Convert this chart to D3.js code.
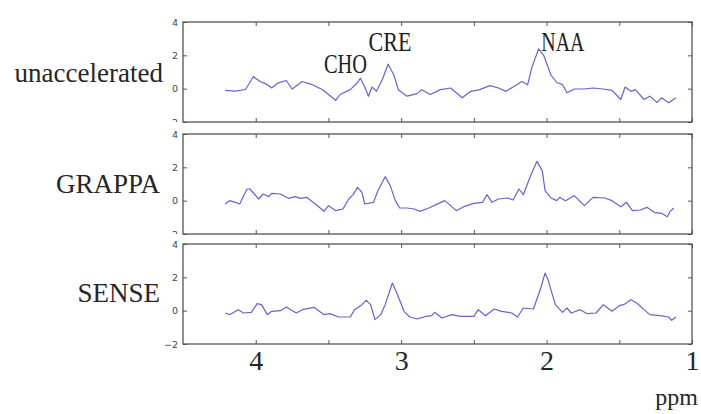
<!DOCTYPE html>
<html>
<head>
<meta charset="utf-8">
<script src="https://cdn.jsdelivr.net/npm/d3@7"></script>
<style>
html,body{margin:0;padding:0;background:#fff;}
svg{display:block;}
</style>
</head>
<body>
<svg id="chart" width="701" height="414"></svg>
<script>
// ---- data (ppm, signal) ----
const panelLabels = ["unaccelerated", "GRAPPA", "SENSE"];
const xTickLabels = [4, 3, 2, 1];
const xTickMinor = [4, 3.5, 3, 2.5, 2, 1.5, 1];
const yTickLabels = [4, 2, 0, -2];

const unaccPpm = [4.21,4.14,4.07,4.016,3.97,3.92,3.89,3.85,3.79,3.75,3.68,3.61,3.54,3.45,3.42,3.35,3.30,3.28,3.25,3.225,3.20,3.17,3.13,3.09,3.05,3.02,2.96,2.89,2.86,2.80,2.73,2.66,2.58,2.52,2.46,2.39,2.33,2.28,2.23,2.17,2.13,2.10,2.055,2.02,1.97,1.93,1.89,1.86,1.81,1.74,1.68,1.61,1.55,1.49,1.46,1.42,1.39,1.33,1.29,1.24,1.21,1.16,1.11];
const unaccVal = [-0.1,-0.15,-0.05,0.73,0.43,0.24,0.04,0.33,0.49,-0.02,0.43,0.24,-0.06,-0.7,-0.35,-0.06,0.37,0.63,0.1,-0.45,0.1,-0.16,0.53,1.47,0.82,-0.06,-0.45,-0.3,-0.06,-0.35,-0.06,0.04,-0.55,-0.16,-0.06,0.18,0.04,-0.16,0.1,0.43,0.24,1.31,2.39,2.0,0.82,0.37,0.24,-0.25,-0.02,-0.02,0.04,-0.02,-0.1,-0.65,0.1,-0.16,-0.06,-0.65,-0.45,-0.84,-0.55,-0.84,-0.55];

const grappaPpm = [4.21,4.18,4.14,4.11,4.06,4.04,3.98,3.95,3.91,3.89,3.83,3.775,3.73,3.69,3.65,3.59,3.53,3.50,3.45,3.40,3.36,3.33,3.30,3.27,3.25,3.19,3.16,3.11,3.075,3.04,3.01,2.96,2.91,2.87,2.81,2.74,2.70,2.62,2.57,2.50,2.44,2.41,2.375,2.33,2.27,2.23,2.19,2.16,2.11,2.066,2.03,2.01,1.97,1.93,1.91,1.87,1.81,1.74,1.68,1.60,1.55,1.49,1.45,1.41,1.355,1.31,1.26,1.21,1.17,1.15,1.125];
const grappaVal = [-0.2,0,-0.1,-0.2,0.7,0.7,0.1,0.4,0.24,0.44,0.4,0.14,0.24,0.14,0.2,-0.2,-0.64,-0.3,-0.6,-0.5,0.1,0.36,0.8,0.5,-0.2,-0.1,0.6,1.44,0.9,0,-0.44,-0.44,-0.5,-0.64,-0.44,-0.16,0,-0.6,-0.36,-0.16,-0.1,0.36,-0.1,0.1,0.16,0.04,0.7,0.36,1.5,2.36,1.8,0.6,0.16,0,0.2,0,0.3,-0.3,0.2,0.16,0,-0.36,-0.1,-0.6,-0.56,-0.4,-0.7,-0.76,-0.96,-0.64,-0.44];

const sensePpm = [4.21,4.18,4.12,4.085,4.03,3.99,3.96,3.92,3.89,3.83,3.79,3.76,3.72,3.68,3.60,3.53,3.49,3.43,3.35,3.32,3.27,3.24,3.21,3.18,3.14,3.11,3.06,3.03,2.98,2.94,2.89,2.83,2.79,2.77,2.72,2.65,2.59,2.50,2.47,2.42,2.36,2.31,2.24,2.20,2.16,2.09,2.04,2.01,1.99,1.94,1.89,1.86,1.83,1.77,1.72,1.66,1.61,1.55,1.50,1.47,1.42,1.38,1.33,1.29,1.22,1.16,1.14,1.11];
const senseVal = [-0.14,-0.24,0.06,-0.14,-0.1,0.42,0.36,-0.24,-0.04,0,0.22,0.06,-0.14,0.06,0.2,-0.24,-0.18,-0.38,-0.38,0.06,0.36,0.62,0.36,-0.54,-0.24,0.36,1.66,1.06,-0.04,-0.38,-0.5,-0.34,-0.3,-0.1,-0.44,-0.24,-0.34,-0.34,0.06,-0.3,0.1,-0.04,-0.14,-0.38,0.16,0.1,1.36,2.26,1.86,0.36,-0.1,0.16,-0.14,0.06,-0.18,-0.14,0.36,-0.04,0.3,0.36,0.66,0.46,0.06,-0.24,-0.3,-0.38,-0.58,-0.38];

const peakLabels = ["CHO", "CRE", "NAA"];
const peakPpm = [3.30, 3.09, 2.06];

const series = [
  {ppm: unaccPpm, val: unaccVal},
  {ppm: grappaPpm, val: grappaVal},
  {ppm: sensePpm, val: senseVal}
];

// ---- layout ----
const svg = d3.select("#chart");
const left = 183, right = 692;
const panelTops = [22, 134, 244];
const panelH = 100;
const lineColor = "#6464d0";
const boxColor = "#555";
const textColor = "#262626";
const serif = "'Liberation Serif','DejaVu Serif',serif";

const x = d3.scaleLinear().domain([4.5, 1]).range([left, right]);

const defs = svg.append("defs");

series.forEach((s, i) => {
  const top = panelTops[i];
  const bottom = top + panelH;
  const y = d3.scaleLinear().domain([-2, 4]).range([bottom, top]);
  const g = svg.append("g");

  // clip for y tick labels (bottom label cut off by next panel)
  const cid = "clipy" + i;
  defs.append("clipPath").attr("id", cid).append("rect")
    .attr("x", 150).attr("y", top - 12).attr("width", 45)
    .attr("height", i < 2 ? (panelH + 12) : (panelH + 22));

  // line
  const pts = s.ppm.map((p, k) => [p, s.val[k]]);
  g.append("path")
    .datum(pts)
    .attr("fill", "none")
    .attr("stroke", lineColor)
    .attr("stroke-width", 1.2)
    .attr("stroke-linejoin", "round")
    .attr("d", d3.line().x(d => x(d[0])).y(d => y(d[1])));

  // box
  g.append("rect")
    .attr("x", left).attr("y", top)
    .attr("width", right - left).attr("height", panelH)
    .attr("fill", "none").attr("stroke", boxColor).attr("stroke-width", 1.3);

  // ticks
  const styleAxis = sel => {
    sel.select(".domain").remove();
    sel.selectAll(".tick line").attr("stroke", boxColor).attr("stroke-width", 1);
  };
  g.append("g").attr("transform", `translate(0,${bottom})`)
    .call(d3.axisBottom(x).tickValues(xTickMinor).tickSize(-4).tickFormat(""))
    .call(styleAxis);
  g.append("g").attr("transform", `translate(0,${top})`)
    .call(d3.axisTop(x).tickValues(xTickMinor).tickSize(-4).tickFormat(""))
    .call(styleAxis);
  g.append("g").attr("transform", `translate(${right},0)`)
    .call(d3.axisRight(y).tickValues(yTickLabels).tickSize(-4).tickFormat(""))
    .call(styleAxis);
  g.append("g").attr("transform", `translate(${left},0)`)
    .call(d3.axisLeft(y).tickValues(yTickLabels).tickSize(-4).tickFormat(""))
    .call(styleAxis);
  const ya = g.append("g").attr("clip-path", `url(#${cid})`)
    .append("g").attr("transform", `translate(${left},0)`)
    .call(d3.axisLeft(y).tickValues(yTickLabels).tickSize(0).tickPadding(5).tickFormat(d3.format("d")));
  ya.select(".domain").remove();
  ya.selectAll(".tick text")
    .attr("font-family", "'DejaVu Sans',sans-serif")
    .attr("font-size", 9.5)
    .attr("fill", "#444");

  // panel label
  svg.append("text")
    .attr("x", i === 0 ? 163 : 160)
    .attr("y", [82, 193, 302][i])
    .attr("text-anchor", "end")
    .attr("font-family", serif)
    .attr("font-size", 27)
    .attr("fill", textColor)
    .text(panelLabels[i]);
});

// x tick labels under the last panel
const lastBottom = panelTops[2] + panelH;
const xa = svg.append("g").attr("transform", `translate(0,${lastBottom})`)
  .call(d3.axisBottom(x).tickValues(xTickLabels).tickSize(0).tickPadding(6).tickFormat(d3.format("d")));
xa.select(".domain").remove();
xa.selectAll(".tick text")
  .attr("font-family", serif)
  .attr("font-size", 28)
  .attr("fill", textColor);

svg.append("text")
  .attr("x", 698).attr("y", 405)
  .attr("text-anchor", "end")
  .attr("font-family", serif)
  .attr("font-size", 24)
  .attr("fill", textColor)
  .text("ppm");

// peak annotations (top panel)
const annY = [73, 51, 51];
const annDx = [-12, 2, 25];
peakLabels.forEach((t, k) => {
  svg.append("text")
    .attr("x", x(peakPpm[k]) + annDx[k])
    .attr("y", annY[k])
    .attr("text-anchor", "middle")
    .attr("font-family", serif)
    .attr("font-size", 28)
    .attr("textLength", 43)
    .attr("lengthAdjust", "spacingAndGlyphs")
    .attr("fill", "#1e1e1e")
    .text(t);
});
</script>
</body>
</html>
